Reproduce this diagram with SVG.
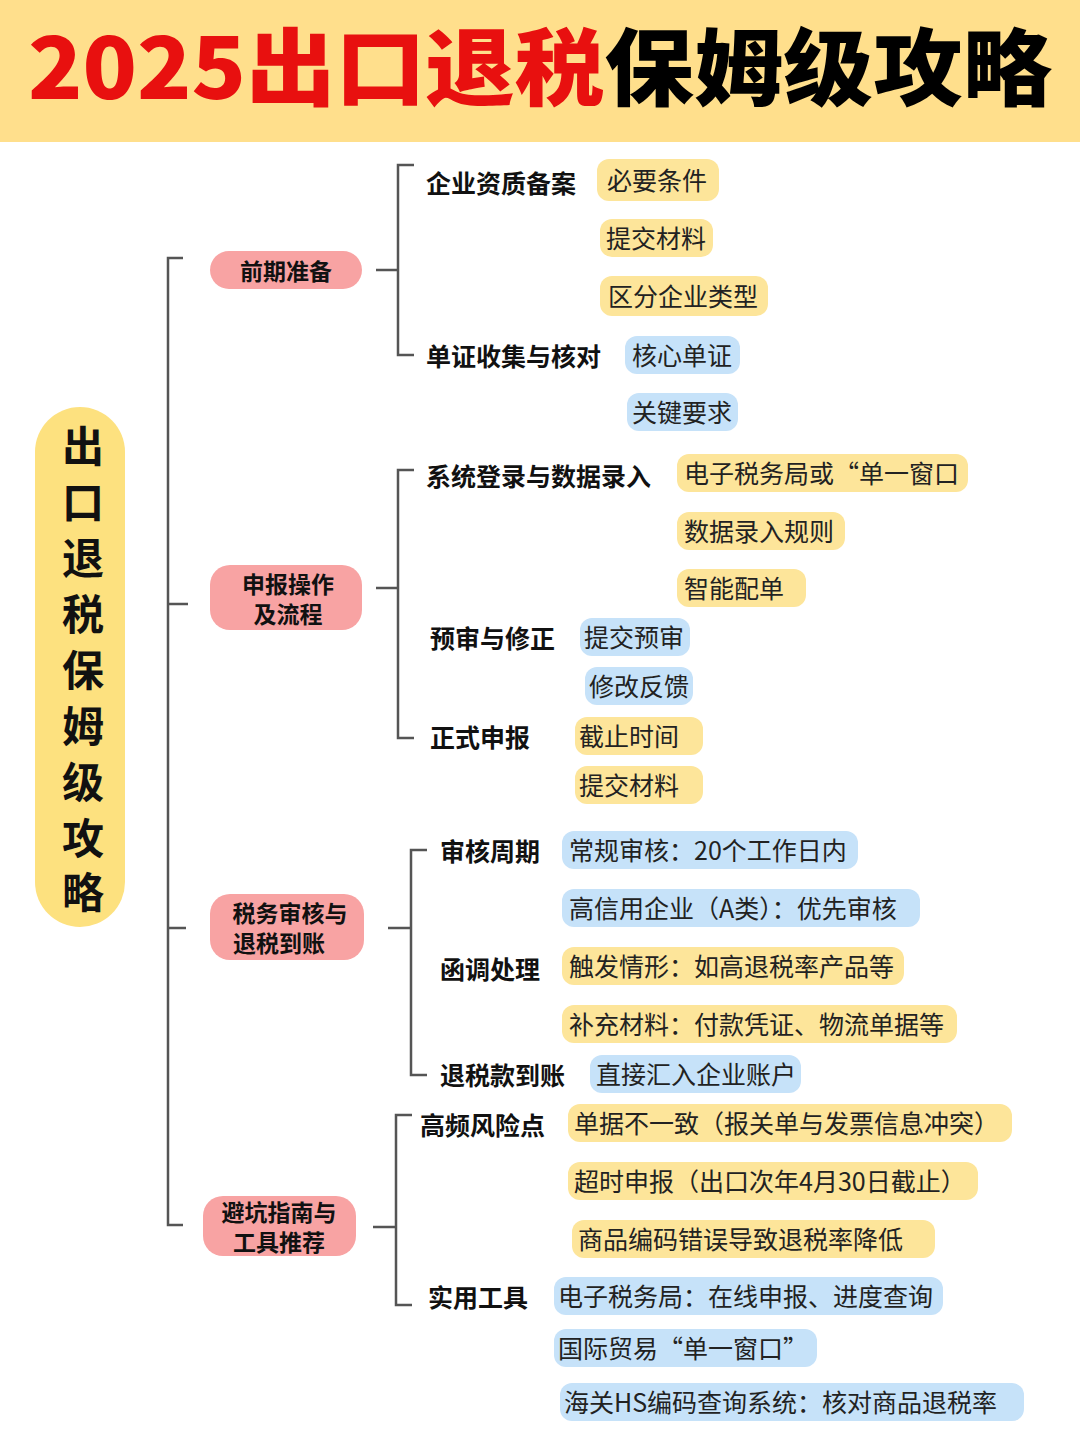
<svg xmlns="http://www.w3.org/2000/svg" width="1080" height="1440" viewBox="0 0 1080 1440">
<style>
text{font-family:"Noto Sans CJK SC","Noto Sans",sans-serif;dominant-baseline:central}
.ln{stroke:#555;stroke-width:2.5;fill:none}
.cat rect{fill:#F8A3A3}
.cat text{font-size:23px;font-weight:700;fill:#111;text-anchor:middle}
.sub{font-size:25px;font-weight:700;fill:#111}
.y{fill:#FDE59A}
.b{fill:#C6E2F9}
.t{font-size:25px;fill:#222}
</style>
<rect x="0" y="0" width="1080" height="142" fill="#FFDF8C"/>
<text id="title" x="28" y="62" font-size="84" font-weight="900" textLength="1024" lengthAdjust="spacingAndGlyphs"><tspan fill="#E8100F">2025出口退税</tspan><tspan fill="#000">保姆级攻略</tspan></text>
<g id="root">
<rect x="35" y="407" width="90" height="520" rx="45" fill="#FDE17F"/>
<text x="83" y="445" font-size="42" font-weight="700" text-anchor="middle" fill="#111"><tspan x="83" y="443">出</tspan><tspan x="83" y="499">口</tspan><tspan x="83" y="555">退</tspan><tspan x="83" y="611">税</tspan><tspan x="83" y="667">保</tspan><tspan x="83" y="723">姆</tspan><tspan x="83" y="779">级</tspan><tspan x="83" y="835">攻</tspan><tspan x="83" y="889">略</tspan></text>
</g>
<g id="connectors">
<path class="ln" d="M183 258H168V1225H183M168 604H188M168 928H186"/>
<path class="ln" d="M376 270H398M414 165H398V355H414"/>
<path class="ln" d="M376 588H398M414 470H398V738H414"/>
<path class="ln" d="M388 928H411M427 850H411V1075H427"/>
<path class="ln" d="M373 1227H396M412 1115H396V1305H412"/>
</g>
<g id="c1" class="cat"><rect x="210" y="251" width="152" height="38" rx="19"/><text x="286" y="270">前期准备</text></g>
<g id="c2" class="cat"><rect x="210" y="565" width="152" height="65" rx="20"/><text x="288" y="583">申报操作</text><text x="288" y="613">及流程</text></g>
<g id="c3" class="cat"><rect x="210" y="894" width="154" height="66" rx="20"/><text x="290" y="912">税务审核与</text><text x="279" y="942">退税到账</text></g>
<g id="c4" class="cat"><rect x="203" y="1196" width="153" height="60" rx="20"/><text x="279" y="1211">避坑指南与</text><text x="279" y="1241">工具推荐</text></g>
<g id="subs">
<text class="sub" x="426" y="182">企业资质备案</text>
<text class="sub" x="426" y="355">单证收集与核对</text>
<text class="sub" x="426" y="475">系统登录与数据录入</text>
<text class="sub" x="430" y="637">预审与修正</text>
<text class="sub" x="430" y="736">正式申报</text>
<text class="sub" x="440" y="850">审核周期</text>
<text class="sub" x="440" y="968">函调处理</text>
<text class="sub" x="440" y="1074">退税款到账</text>
<text class="sub" x="420" y="1124">高频风险点</text>
<text class="sub" x="428" y="1296">实用工具</text>
</g>
<g id="tags">
<rect class="y" x="597" y="159" width="122" height="42" rx="12"/><text class="t" x="607" y="179">必要条件</text>
<rect class="y" x="600" y="219" width="113" height="38" rx="12"/><text class="t" x="606" y="237">提交材料</text>
<rect class="y" x="600" y="276" width="168" height="40" rx="12"/><text class="t" x="608" y="295">区分企业类型</text>
<rect class="b" x="625" y="336" width="115" height="38" rx="12"/><text class="t" x="632" y="354">核心单证</text>
<rect class="b" x="627" y="393" width="111" height="38" rx="12"/><text class="t" x="632" y="411">关键要求</text>
<rect class="y" x="677" y="454" width="291" height="38" rx="12"/><text class="t" x="684" y="472">电子税务局或“单一窗口</text>
<rect class="y" x="677" y="512" width="168" height="38" rx="12"/><text class="t" x="684" y="530">数据录入规则</text>
<rect class="y" x="677" y="569" width="129" height="38" rx="12"/><text class="t" x="684" y="587">智能配单</text>
<rect class="b" x="580" y="618" width="110" height="38" rx="12"/><text class="t" x="584" y="636">提交预审</text>
<rect class="b" x="585" y="667" width="108" height="38" rx="12"/><text class="t" x="589" y="685">修改反馈</text>
<rect class="y" x="575" y="717" width="128" height="38" rx="12"/><text class="t" x="579" y="735">截止时间</text>
<rect class="y" x="575" y="766" width="128" height="38" rx="12"/><text class="t" x="579" y="784">提交材料</text>
<rect class="b" x="562" y="831" width="296" height="38" rx="12"/><text class="t" x="569" y="849">常规审核：20个工作日内</text>
<rect class="b" x="562" y="889" width="358" height="38" rx="12"/><text class="t" x="569" y="907">高信用企业（A类）：优先审核</text>
<rect class="y" x="562" y="947" width="342" height="38" rx="12"/><text class="t" x="569" y="965">触发情形：如高退税率产品等</text>
<rect class="y" x="562" y="1005" width="395" height="38" rx="12"/><text class="t" x="569" y="1023">补充材料：付款凭证、物流单据等</text>
<rect class="b" x="590" y="1055" width="211" height="38" rx="12"/><text class="t" x="596" y="1073">直接汇入企业账户</text>
<rect class="y" x="568" y="1104" width="444" height="38" rx="12"/><text class="t" x="574" y="1122">单据不一致（报关单与发票信息冲突）</text>
<rect class="y" x="568" y="1162" width="410" height="38" rx="12"/><text class="t" x="574" y="1180">超时申报（出口次年4月30日截止）</text>
<rect class="y" x="572" y="1220" width="363" height="38" rx="12"/><text class="t" x="578" y="1238">商品编码错误导致退税率降低</text>
<rect class="b" x="554" y="1277" width="389" height="38" rx="12"/><text class="t" x="558" y="1295">电子税务局：在线申报、进度查询</text>
<rect class="b" x="554" y="1329" width="263" height="38" rx="12"/><text class="t" x="558" y="1347">国际贸易“单一窗口”</text>
<rect class="b" x="560" y="1383" width="464" height="38" rx="12"/><text class="t" x="564" y="1401">海关HS编码查询系统：核对商品退税率</text>
</g>
</svg>
